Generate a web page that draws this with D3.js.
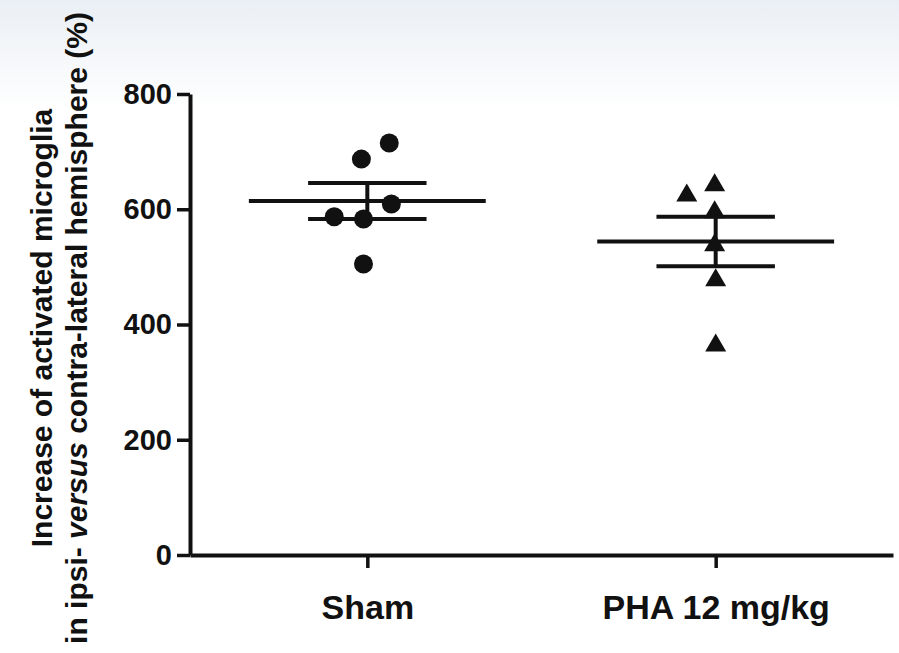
<!DOCTYPE html>
<html>
<head>
<meta charset="utf-8">
<script src="https://cdn.jsdelivr.net/npm/d3@7"></script>
<style>
  body { margin: 0; background: #fff; }
  svg { display: block; }
  .axis text { font-family: "Liberation Sans", Arial, sans-serif; font-weight: bold; fill: #111; }
  .axis path, .axis line { stroke: #111; }
</style>
</head>
<body>
<div id="chart"></div>
<script>
(function() {
  var width = 899,
    height = 653;

  // groups and the individual animal values
  var groups = ["Sham", "PHA 12 mg/kg"];
  var shamValues = [715, 687, 609, 587, 583, 505];
  var phaValues = [628, 646, 599, 542, 481, 368];
  var yTicks = [0, 200, 400, 600, 800];

  // horizontal spread of the points inside a column, as a fraction of the step
  var shamJitter = [0.063, -0.017, 0.069, -0.095, -0.011, -0.011];
  var phaJitter = [-0.083, -0.003, -0.003, -0.003, 0, 0];

  var svg = d3.select("#chart")
    .append("svg")
    .attr("width", width)
    .attr("height", height)

  // faint scan tint at the top
  var grad = svg.append("defs").append("linearGradient")
    .attr("id", "tint")
    .attr("x1", 0).attr("x2", 0).attr("y1", 0).attr("y2", 1)
  grad.append("stop").attr("offset", "0").attr("stop-color", "#eaeff5")
  grad.append("stop").attr("offset", "1").attr("stop-color", "#ffffff")
  svg.append("rect").attr("width", width).attr("height", 110).attr("fill", "url(#tint)")

  var x = d3.scalePoint().domain(groups).range([190, 893]).padding(0.509)
  var y = d3.scaleLinear().domain([0, 800]).range([555, 94])
  var step = x.step()

  var data = [
    { group: groups[0], values: shamValues, jitter: shamJitter, shape: "circle" },
    { group: groups[1], values: phaValues, jitter: phaJitter, shape: "triangle" }
  ]

  data.forEach(function(d) {
    d.mean = d3.mean(d.values)
    d.sem = d3.deviation(d.values) / Math.sqrt(d.values.length)
  })

  // axes
  svg.append("g")
    .attr("class", "axis")
    .attr("transform", "translate(190,0)")
    .call(d3.axisLeft(y).tickValues(yTicks).tickSize(13).tickSizeOuter(0).tickPadding(5))
    .call(function(g) {
      g.select(".domain").attr("stroke-width", 4)
      g.selectAll(".tick line").attr("stroke-width", 3.5)
      g.selectAll("text").style("font-size", "29px")
    })

  svg.append("g")
    .attr("class", "axis")
    .attr("transform", "translate(0,555)")
    .call(d3.axisBottom(x).tickSize(13).tickSizeOuter(0).tickPadding(27))
    .call(function(g) {
      g.select(".domain").attr("stroke-width", 4)
      g.selectAll(".tick line").attr("stroke-width", 3.5)
      g.selectAll("text").style("font-size", "34px")
    })

  // mean and SEM
  var stats = svg.append("g").attr("stroke", "#111").attr("stroke-width", 4)

  data.forEach(function(d) {
    var cx = x(d.group)
    stats.append("line")
      .attr("x1", cx - step * 0.34).attr("x2", cx + step * 0.34)
      .attr("y1", y(d.mean)).attr("y2", y(d.mean))
    stats.append("line")
      .attr("x1", cx).attr("x2", cx)
      .attr("y1", y(d.mean - d.sem)).attr("y2", y(d.mean + d.sem))
    ;[d.mean - d.sem, d.mean + d.sem].forEach(function(v) {
      stats.append("line")
        .attr("x1", cx - step * 0.17).attr("x2", cx + step * 0.17)
        .attr("y1", y(v)).attr("y2", y(v))
    })
  })

  // individual points
  var tri = "M0,-9.5L10.5,8.5L-10.5,8.5Z"

  data.forEach(function(d) {
    var pts = d.values.map(function(v, i) {
      return { value: v, px: x(d.group) + d.jitter[i] * step }
    })
    if (d.shape === "circle") {
      svg.selectAll(".dot-" + d.shape)
        .data(pts)
        .enter().append("circle")
        .attr("cx", function(p) { return p.px })
        .attr("cy", function(p) { return y(p.value) })
        .attr("r", 9.5)
        .attr("fill", "#111")
    } else {
      svg.selectAll(".dot-" + d.shape)
        .data(pts)
        .enter().append("path")
        .attr("d", tri)
        .attr("transform", function(p) { return "translate(" + p.px + "," + y(p.value) + ")" })
        .attr("fill", "#111")
    }
  })

  // y title, two lines
  var title = svg.append("text")
    .attr("transform", "translate(0,328) rotate(-90)")
    .attr("text-anchor", "middle")
    .style("font-family", "'Liberation Sans', Arial, sans-serif")
    .style("font-weight", "bold")
    .style("font-size", "30px")
    .attr("fill", "#111")

  title.append("tspan").attr("x", 0).attr("y", 52).text("Increase of activated microglia")
  var l2 = title.append("tspan").attr("x", 0).attr("y", 87)
  l2.append("tspan").text("in ipsi- ")
  l2.append("tspan").style("font-style", "italic").text("versus")
  l2.append("tspan").text(" contra-lateral hemisphere (%)")

})();
</script>
</body>
</html>
